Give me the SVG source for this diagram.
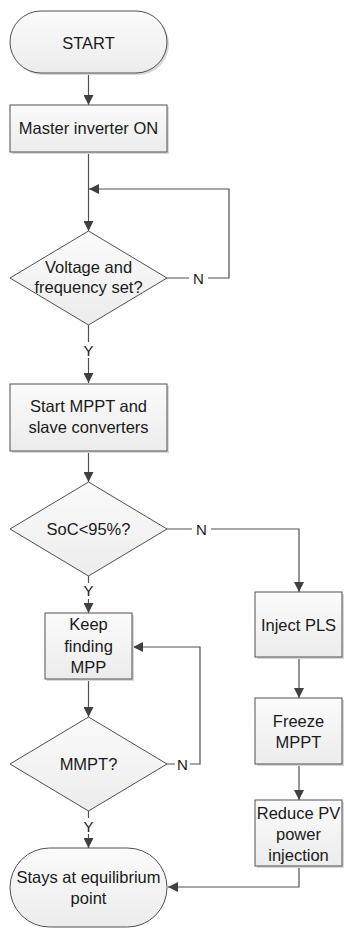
<svg xmlns="http://www.w3.org/2000/svg" width="344" height="929" viewBox="0 0 344 929">
<defs>
<linearGradient id="g" x1="0" y1="0" x2="0" y2="1">
<stop offset="0" stop-color="#fbfbfb"/>
<stop offset="1" stop-color="#ececec"/>
</linearGradient>
<marker id="ah" viewBox="0 0 10 10" refX="10" refY="5" markerWidth="10" markerHeight="10" markerUnits="userSpaceOnUse" orient="auto">
<path d="M0,0 L10,5 L0,10 Z" fill="#404040"/>
</marker>
</defs>
<style>
.s{fill:url(#g);stroke:#505050;stroke-width:1}
.sh{fill:#d8d8d8;stroke:none}
text{font-family:"Liberation Sans",Arial,sans-serif;font-size:16.5px;fill:#1a1a1a;text-anchor:middle}
.lb{font-size:15px}
.c{fill:none;stroke:#505050;stroke-width:1.2}
.bg{fill:#ffffff}
</style>
<rect width="344" height="929" fill="#ffffff"/>

<g id="connectors">
<path class="c" d="M88.5,73 V105" marker-end="url(#ah)"/>
<path class="c" d="M88.5,152 V231" marker-end="url(#ah)"/>
<path class="c" d="M167,278 H229 V189 H89" marker-end="url(#ah)"/>
<path class="c" d="M88.5,325 V383" marker-end="url(#ah)"/>
<path class="c" d="M88.5,451 V482" marker-end="url(#ah)"/>
<path class="c" d="M167,529 H299 V592" marker-end="url(#ah)"/>
<path class="c" d="M88.5,575 V613" marker-end="url(#ah)"/>
<path class="c" d="M88.5,679 V717" marker-end="url(#ah)"/>
<path class="c" d="M167,764 H200 V647 H133" marker-end="url(#ah)"/>
<path class="c" d="M88.5,810 V848" marker-end="url(#ah)"/>
<path class="c" d="M299,657 V698" marker-end="url(#ah)"/>
<path class="c" d="M299,764 V800" marker-end="url(#ah)"/>
<path class="c" d="M299,866 V887 H168" marker-end="url(#ah)"/>
<rect class="bg" x="189" y="269" width="19" height="18"/>
<text class="lb" x="198.5" y="283.5">N</text>
<rect class="bg" x="81" y="342" width="15" height="16"/>
<text class="lb" x="88.5" y="355.5">Y</text>
<rect class="bg" x="192" y="520" width="19" height="18"/>
<text class="lb" x="201.5" y="534.5">N</text>
<rect class="bg" x="81" y="583" width="15" height="16"/>
<text class="lb" x="88.5" y="596">Y</text>
<rect class="bg" x="175" y="755" width="15" height="18"/>
<text class="lb" x="182.5" y="769.5">N</text>
<rect class="bg" x="81" y="818" width="15" height="16"/>
<text class="lb" x="88.5" y="831.5">Y</text>
</g>

<g id="start">
<rect class="sh" x="12" y="13" width="157" height="62" rx="31"/>
<rect class="s" x="10" y="11" width="157" height="62" rx="31"/>
<text x="88.5" y="49">START</text>
</g>

<g id="master">
<rect class="sh" x="12" y="107" width="157" height="47"/>
<rect class="s" x="10" y="105" width="157" height="47"/>
<text x="88.5" y="134">Master inverter ON</text>
</g>

<g id="voltage">
<path class="s" d="M88.5,231 L167,278 L88.5,325 L10,278 Z"/>
<text x="88.5" y="273">Voltage and</text>
<text x="88.5" y="293">frequency set?</text>
</g>

<g id="startmppt">
<rect class="sh" x="12" y="386" width="157" height="67"/>
<rect class="s" x="10" y="384" width="157" height="67"/>
<text x="88.5" y="412">Start MPPT and</text>
<text x="88.5" y="433">slave converters</text>
</g>

<g id="soc">
<path class="s" d="M88.5,482 L167,529 L88.5,576 L10,529 Z"/>
<text x="88.5" y="535">SoC&lt;95%?</text>
</g>

<g id="keep">
<rect class="sh" x="47" y="615" width="87" height="66"/>
<rect class="s" x="45" y="613" width="87" height="66"/>
<text x="88.5" y="630">Keep</text>
<text x="88.5" y="652">finding</text>
<text x="88.5" y="673">MPP</text>
</g>

<g id="mmpt">
<path class="s" d="M88.5,717 L167,764 L88.5,811 L10,764 Z"/>
<text x="88.5" y="770">MMPT?</text>
</g>

<g id="stays">
<rect class="s" x="10" y="848" width="157" height="79" rx="39.5"/>
<text x="88.5" y="883">Stays at equilibrium</text>
<text x="88.5" y="904">point</text>
</g>

<g id="inject">
<rect class="sh" x="257" y="594" width="87" height="65"/>
<rect class="s" x="255" y="592" width="87" height="65"/>
<text x="298.5" y="631">Inject PLS</text>
</g>

<g id="freeze">
<rect class="sh" x="257" y="700" width="87" height="66"/>
<rect class="s" x="255" y="698" width="87" height="66"/>
<text x="298.5" y="727">Freeze</text>
<text x="298.5" y="748">MPPT</text>
</g>

<g id="reduce">
<rect class="sh" x="257" y="802" width="87" height="66"/>
<rect class="s" x="255" y="800" width="87" height="66"/>
<text x="298.5" y="819">Reduce PV</text>
<text x="298.5" y="840">power</text>
<text x="298.5" y="861">injection</text>
</g>
</svg>
